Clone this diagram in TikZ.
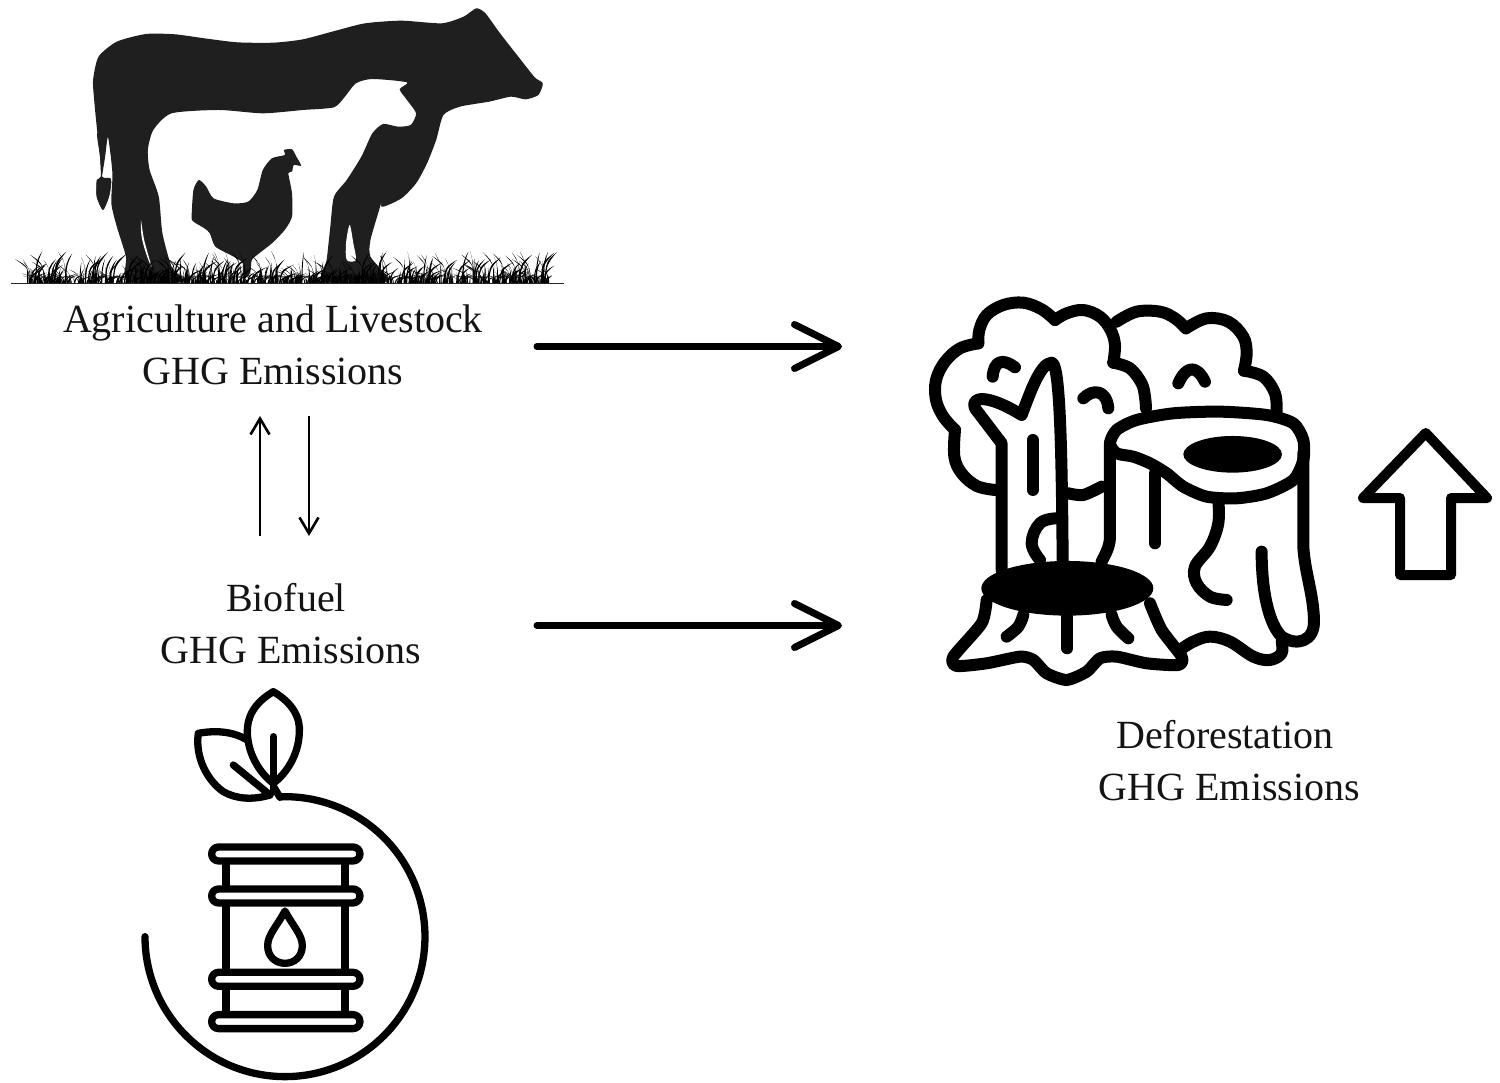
\documentclass[tikz,border=0pt]{standalone}
\usepackage{fontspec}
\setmainfont{Liberation Serif}
\usetikzlibrary{arrows.meta}
\definecolor{ink}{HTML}{141414}
\definecolor{cowink}{HTML}{1F1F1F}
\tikzset{
  label/.style={inner sep=0pt,outer sep=0pt,align=center,text=ink,font=\fontsize{40}{52}\selectfont},
  bigarrow/.style={draw=black,line width=7pt,line cap=round,-{Straight Barb[round,length=44pt,width=44pt,line width=7pt]}},
  thinarrow/.style={draw=black,line width=2.4pt,-{Straight Barb[length=16pt,width=19pt,line width=2.6pt]}},
  hollowup/.style={draw=black,line width=10pt,line join=round,fill=white},
  treeline/.style={draw=black,line width=12pt,line cap=round,line join=round},
  barrelline/.style={draw=black,line width=7.3pt,line cap=round,line join=round},
  zcow/.style={shift={(0,0)},x=0.365pt,y=-0.3333pt},
  ztree/.style={shift={(920,280)},x=0.3333pt,y=-0.3333pt},
  zbarrel/.style={shift={(130,680)},x=0.3333pt,y=-0.3333pt},
}
\begin{document}
\begin{tikzpicture}[x=1pt,y=-1pt]
\useasboundingbox (0,0) rectangle (1500,1083);
\fill[white] (0,0) rectangle (1500,1083);

% ---- animals ----
\begin{scope}[zcow]
\fill[cowink] plot[smooth cycle,tension=0.4] coordinates {
 (255,240) (270,170) (320,125) (400,102) (480,103) (560,115) (650,127) (750,128) (830,118) (920,92) (1000,70) (1100,62) (1210,70) (1270,50) (1305,25) (1330,40) (1370,100) (1420,170) (1465,232) (1487,250) (1475,285) (1440,298) (1400,290) (1340,305) (1260,320) (1215,345) (1195,420) (1170,490) (1140,550) (1100,595) (1045,620) (1057,560) (1040,625) (1015,720) (1015,770) (1060,845) (885,845) (895,780) (905,680) (915,590) (950,540) (990,470) (1020,400) (1050,372) (1090,380) (1125,375) (1140,340) (1115,300) (1095,268) (1115,247) (1020,237) (975,250) (945,290) (915,322) (830,330) (720,340) (600,330) (470,340) (420,390) (405,450) (410,510) (435,590) (445,700) (470,800) (500,845) (350,845) (345,770) (320,680) (305,610) (308,520) (296,412) (288,470) (278,532) (265,540) (265,590) (282,630) (298,592) (305,545) (296,535) (280,535) (274,470) (265,380) (258,300)};
% tail
\fill[cowink] plot[smooth cycle,tension=0.4] coordinates {(266,400) (290,410) (286,470) (280,530) (303,535) (303,565) (298,592) (282,630) (265,590) (266,540) (276,530) (274,470)};
% slits between the legs
\fill[white] plot[smooth cycle,tension=0.5] coordinates {(386,660) (395,720) (415,800) (400,760) (388,710)};
\fill[white] plot[smooth cycle,tension=0.5] coordinates {(958,675) (968,730) (975,780) (950,780) (948,730)};
% chicken
\fill[cowink] plot[smooth cycle,tension=0.4] coordinates {
 (525,650) (530,570) (545,540) (565,560) (585,595) (640,610) (680,605) (705,570) (720,510) (745,475) (780,465) (778,450) (800,448) (812,470) (825,497) (805,495) (800,515) (790,520) (800,580) (800,650) (780,690) (745,730) (710,760) (690,780) (685,820) (665,835) (665,790) (640,770) (590,740) (575,700) (560,685) (530,665)};
% grass
\pgfmathsetseed{11}
\foreach \i in {1,...,800}{
  \pgfmathsetmacro{\bx}{75+1430*rnd}
  \pgfmathsetmacro{\bh}{22+(rnd^3)*75}
  \pgfmathsetmacro{\bl}{(rnd-0.5)*80}
  \fill[black] (\bx-1.7,850) .. controls (\bx+\bl*0.1,850-\bh*0.7) .. (\bx+\bl,850-\bh) .. controls (\bx+\bl*0.1+2,850-\bh*0.6) .. (\bx+1.7,850) -- cycle;
}
\draw[black!85,line width=0.8pt] (30,851) -- (1545,851);
\end{scope}

% ---- biofuel icon ----
\begin{scope}[zbarrel]
\draw[barrelline] (45,770) arc[start angle=180,end angle=-92,radius=420];
\foreach \yy in {522,648,898,1025}{
  \draw[barrelline,rounded corners=6.9pt] (245,\yy-21) rectangle (690,\yy+21);
}
\draw[barrelline] (288,545) -- (288,625) (645,545) -- (645,625);
\draw[barrelline] (288,672) -- (288,875) (645,672) -- (645,875);
\draw[barrelline] (288,920) -- (288,1003) (645,920) -- (645,1003);
\draw[barrelline] (465,693) .. controls (440,740) and (413,765) .. (413,797) .. controls (413,830) and (437,850) .. (465,850) .. controls (493,850) and (517,830) .. (517,797) .. controls (517,765) and (490,740) .. (465,693) -- cycle;
\draw[barrelline] (430,35) .. controls (490,70) and (512,115) .. (508,160) .. controls (505,225) and (470,280) .. (430,310) .. controls (390,280) and (355,225) .. (352,160) .. controls (350,115) and (370,70) .. (430,35) -- cycle;
\draw[barrelline] (430,170) -- (430,335);
\draw[barrelline] (352,180) .. controls (310,155) and (260,150) .. (205,160) .. controls (195,230) and (230,300) .. (280,335) .. controls (320,358) and (370,360) .. (420,345);
\draw[barrelline] (310,255) -- (420,345);
\draw[barrelline] (432,322) -- (450,352);
\end{scope}

% ---- tree icon ----
\begin{scope}[ztree]
\draw[treeline] plot[smooth,tension=0.6] coordinates {(225,630) (170,618) (125,580) (103,530) (105,450)};
\draw[treeline] plot[smooth,tension=0.6] coordinates {(105,450) (70,410) (48,360) (48,300) (75,245) (120,205) (175,190)};
\draw[treeline] plot[smooth,tension=0.6] coordinates {(175,190) (178,150) (200,105) (250,75) (310,68) (365,88) (405,120)};
\draw[treeline] plot[smooth,tension=0.6] coordinates {(405,120) (440,100) (490,90) (540,110) (572,150) (585,195) (580,248)};
\draw[treeline] plot[smooth,tension=0.6] coordinates {(580,248) (630,265) (665,310) (675,350) (678,385)};
\draw[treeline] plot[smooth,tension=0.5] coordinates {(445,640) (490,645) (545,620)};
\draw[treeline] plot[smooth,tension=0.6] coordinates {(590,125) (650,95) (720,95) (765,115) (798,145)};
\draw[treeline] plot[smooth,tension=0.6] coordinates {(798,145) (860,115) (925,125) (970,170) (980,220) (972,272)};
\draw[treeline] plot[smooth,tension=0.6] coordinates {(972,272) (1030,290) (1065,340) (1070,395)};
\draw[treeline] (218,290) .. controls (222,240) and (250,235) .. (285,262);
\draw[treeline] (490,355) .. controls (520,325) and (560,330) .. (565,385);
\draw[treeline] (775,310) .. controls (800,255) and (830,255) .. (855,305);
% broken trunk
\draw[treeline] (245,870) -- (245,490) -- (165,385) .. controls (150,350) and (200,340) .. (305,405) .. controls (330,340) and (360,250) .. (395,248) .. controls (415,250) and (425,400) .. (428,840);
\draw[treeline] (338,480) -- (338,630);
\draw[treeline] plot[smooth,tension=0.7] coordinates {(410,715) (360,730) (335,790) (360,840)};
% large stump
\draw[treeline] (570,490) -- (570,770) .. controls (570,800) and (555,825) .. (545,845);
\draw[treeline] plot[smooth cycle,tension=0.45] coordinates {(570,490) (590,450) (650,420) (760,400) (900,395) (1040,405) (1120,430) (1150,480) (1150,540) (1120,600) (1040,640) (950,655) (860,650) (790,620) (740,580) (690,550) (640,530) (590,520)};
\fill[black] (938,523) ellipse [x radius=148,y radius=55];
\draw[treeline] (1150,520) -- (1150,800) .. controls (1155,880) and (1180,940) .. (1182,1020) .. controls (1185,1085) and (1130,1100) .. (1085,1070) .. controls (1045,1030) and (1025,930) .. (1025,815);
\draw[treeline] (705,580) -- (705,790);
\draw[treeline] plot[smooth,tension=0.6] coordinates {(895,660) (895,730) (870,800) (825,860) (830,910) (870,950) (920,960)};
\draw[treeline] plot[smooth,tension=0.6] coordinates {(1085,1085) (1085,1120) (1050,1140) (1000,1130) (930,1085) (870,1070) (820,1085) (780,1110)};
% front stump
\fill[black] (442,925) ellipse [x radius=258,y radius=82];
\draw[treeline] plot[smooth,tension=0.4] coordinates {(200,960) (185,1030) (100,1130) (110,1158) (200,1150) (300,1130) (340,1140) (380,1180) (440,1200) (500,1175) (540,1135) (590,1130) (680,1150) (775,1155) (785,1130) (725,1050) (690,970)};
\draw[treeline] plot[smooth,tension=0.6] coordinates {(310,1005) (295,1040) (260,1070)};
\draw[treeline] (442,1010) -- (442,1105);
\draw[treeline] plot[smooth,tension=0.6] coordinates {(575,1005) (590,1040) (625,1075)};
\end{scope}

% ---- hollow up arrow ----
\draw[hollowup] (1425.7,433) -- (1487,498) -- (1451,498) -- (1451,575) -- (1400,575) -- (1400,498) -- (1363,498) -- cycle;

% ---- labels ----
\node[label,minimum width=528pt,minimum height=142pt] (agri) at (273,345) {Agriculture and Livestock\\GHG Emissions};
\node[label,minimum width=492pt,minimum height=176pt] (bio) at (291,624) {Biofuel\kern10pt\\GHG Emissions};
\node[label] (defor) at (1229.5,761) {Deforestation\kern9pt\\GHG Emissions};

% ---- connectors ----
\coordinate (forestA) at (842,346.5);
\coordinate (forestB) at (842,625.5);
\draw[bigarrow] (agri.east |- forestA) -- (forestA);
\draw[bigarrow] (bio.east |- forestB) -- (forestB);
\draw[thinarrow] ([xshift=-31pt]bio.north) -- ([xshift=-13pt]agri.south);
\draw[thinarrow] ([xshift=36pt]agri.south) -- ([xshift=18pt]bio.north);
\end{tikzpicture}
\end{document}
